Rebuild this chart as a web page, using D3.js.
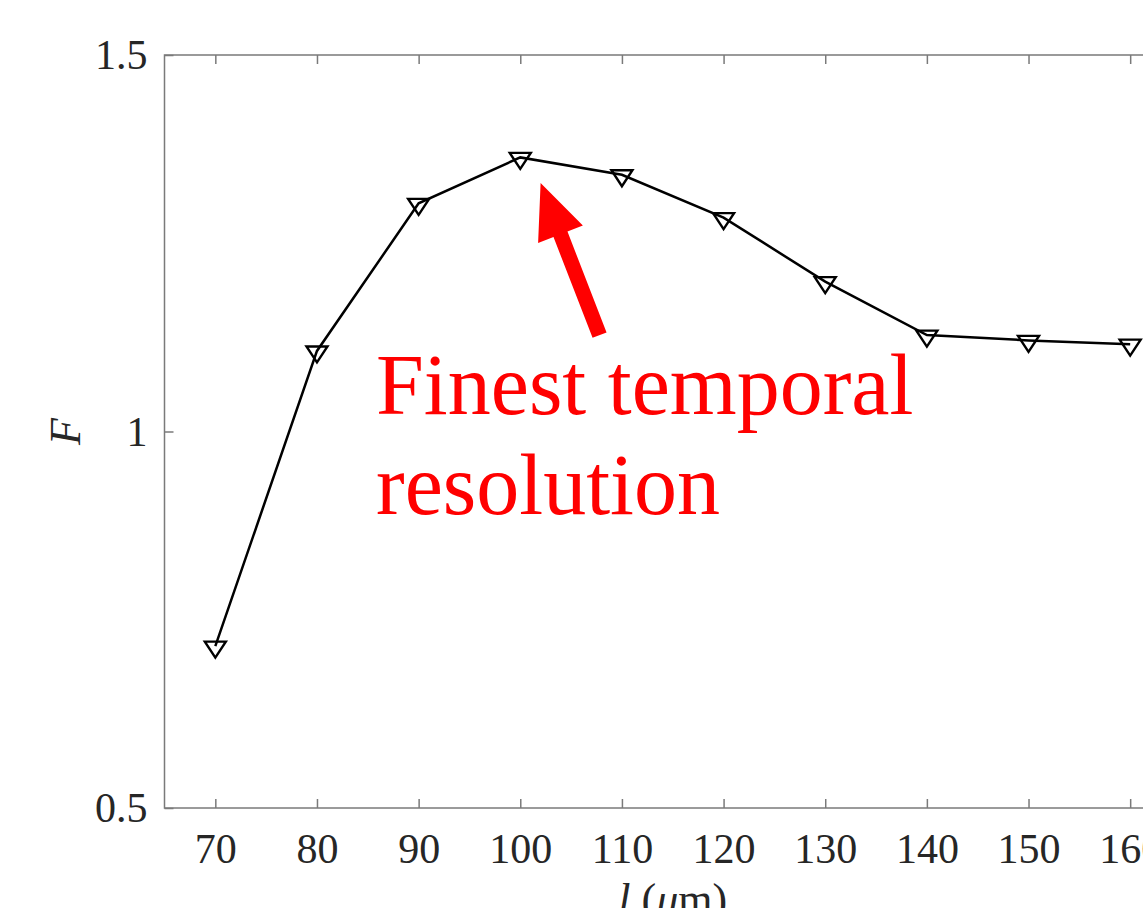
<!DOCTYPE html>
<html>
<head>
<meta charset="utf-8">
<script src="https://cdn.jsdelivr.net/npm/d3@7"></script>
<style>
  body { margin: 0; background: #fff; overflow: hidden; }
  text { font-family: "Liberation Serif", "Times New Roman", serif; }
</style>
</head>
<body>
<div id="chart"></div>
<script>
// data
const lengths = [70, 80, 90, 100, 110, 120, 130, 140, 150, 160];
const fValues = [0.715, 1.107, 1.303, 1.364, 1.341, 1.284, 1.199, 1.128, 1.121, 1.116];
const xTicks = [70, 80, 90, 100, 110, 120, 130, 140, 150, 160];
const yTicks = [0.5, 1, 1.5];
const noteLines = ["Finest temporal", "resolution"];

const W = 1143, H = 908;
const svg = d3.select("#chart")
    .append("svg")
    .attr("width", W)
    .attr("height", H);

const x = d3.scaleLinear().domain([65, 165]).range([164.5, 1181]);
const y = d3.scaleLinear().domain([0.5, 1.5]).range([808, 55]);

const axisColor = "#7a7a7a";
const labelColor = "#262626";
const tickFont = "42px";

// box
svg.append("rect")
    .attr("x", x(65))
    .attr("y", y(1.5))
    .attr("width", x(165) - x(65))
    .attr("height", y(0.5) - y(1.5))
    .attr("fill", "none")
    .attr("stroke", axisColor)
    .attr("stroke-width", 1.5);

// axes with inward ticks
const xAxis = svg.append("g")
    .attr("transform", `translate(0,${y(0.5)})`)
    .call(d3.axisBottom(x).tickValues(xTicks).tickSizeInner(-9).tickSizeOuter(0).tickPadding(25));
const xAxisTop = svg.append("g")
    .attr("transform", `translate(0,${y(1.5)})`)
    .call(d3.axisTop(x).tickValues(xTicks).tickSizeInner(-9).tickSizeOuter(0).tickFormat(""));
const yAxis = svg.append("g")
    .attr("transform", `translate(${x(65)},0)`)
    .call(d3.axisLeft(y).tickValues(yTicks).tickSizeInner(-9).tickSizeOuter(0).tickPadding(17).tickFormat(d3.format("")));
const yAxisRight = svg.append("g")
    .attr("transform", `translate(${x(165)},0)`)
    .call(d3.axisRight(y).tickValues(yTicks).tickSizeInner(-9).tickSizeOuter(0).tickFormat(""));

[xAxis, xAxisTop, yAxis, yAxisRight].forEach(g => {
    g.select(".domain").remove();
    g.selectAll("line").attr("stroke", axisColor).attr("stroke-width", 1.5);
    g.selectAll("text")
        .attr("fill", labelColor)
        .style("font-family", "'Liberation Serif', serif")
        .style("font-size", tickFont);
});
yAxis.selectAll("text").attr("dy", "0.33em");

// axis titles
svg.append("text")
    .attr("transform", `translate(80,${y(1)}) rotate(-90)`)
    .attr("text-anchor", "middle")
    .attr("fill", labelColor)
    .style("font-size", "44px")
    .style("font-style", "italic")
    .text("F");

const xt = svg.append("text")
    .attr("x", (x(65) + x(165)) / 2)
    .attr("y", 914)
    .attr("text-anchor", "middle")
    .attr("fill", labelColor)
    .style("font-size", "44px");
xt.append("tspan").style("font-style", "italic").text("l");
xt.append("tspan").text(" (");
xt.append("tspan").style("font-style", "italic").text("μ");
xt.append("tspan").text("m)");

// line
const line = d3.line()
    .x((d, i) => x(lengths[i]))
    .y(d => y(d));

svg.append("path")
    .datum(fValues)
    .attr("d", line)
    .attr("fill", "none")
    .attr("stroke", "#000")
    .attr("stroke-width", 2.5);

// downward triangle markers
svg.selectAll(".marker")
    .data(fValues)
    .enter()
    .append("path")
    .attr("class", "marker")
    .attr("transform", (d, i) => `translate(${x(lengths[i])},${y(d)})`)
    .attr("d", "M-10.5,-4.5 L10.5,-4.5 L0,11.5 Z")
    .attr("fill", "none")
    .attr("stroke", "#000")
    .attr("stroke-width", 2.4)
    .attr("stroke-linejoin", "miter");

// annotation arrow (in data coordinates)
const tail = [107.8, 1.128];
const tip = [102, 1.33];
const x0 = x(tail[0]), y0 = y(tail[1]), x1 = x(tip[0]), y1 = y(tip[1]);
const ang = Math.atan2(y1 - y0, x1 - x0);
const len = Math.hypot(x1 - x0, y1 - y0);
const headLen = 55, headW = 24, shaftW = 7.5;
svg.append("path")
    .attr("transform", `translate(${x0},${y0}) rotate(${ang * 180 / Math.PI})`)
    .attr("d", `M0,${-shaftW} L${len - headLen},${-shaftW} L${len - headLen},${-headW} L${len},0 L${len - headLen},${headW} L${len - headLen},${shaftW} L0,${shaftW} Z`)
    .attr("fill", "#ff0000");

// annotation text
svg.selectAll(".note")
    .data(noteLines)
    .enter()
    .append("text")
    .attr("class", "note")
    .attr("x", 376)
    .attr("y", (d, i) => 414 + i * 100)
    .attr("fill", "#ff0000")
    .style("font-size", "86px")
    .text(d => d);
</script>
</body>
</html>
